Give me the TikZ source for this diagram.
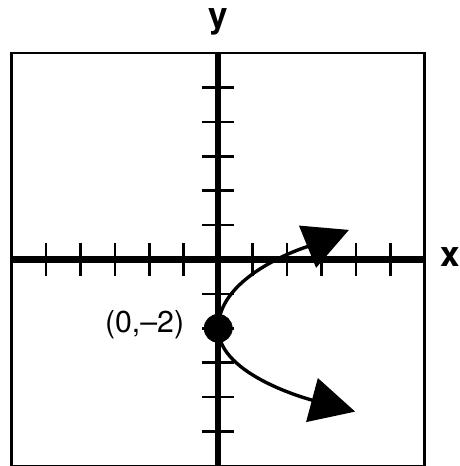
\documentclass[tikz,border=0pt]{standalone}
\usepackage{fontspec}
\setmainfont{TeX Gyre Heros}
\usetikzlibrary{arrows.meta,positioning}

\newcommand*{\xmin}{-6}
\newcommand*{\xmax}{6}
\newcommand*{\ymin}{-6}
\newcommand*{\ymax}{6}

\begin{document}
\begin{tikzpicture}
[
	frame/.style={line width=2pt},
	axis/.style={line width=5.4pt},
	tick/.style={line width=2.2pt},
	closedpt/.style={circle,draw,fill,inner sep=0pt,minimum size=0.82cm},
	curve/.style={line width=2.8pt,-{Triangle[length=1.3cm,width=1.3cm]}},
	axislabel/.style={font=\bfseries\fontsize{29}{29}\selectfont,anchor=base},
	ptlabel/.style={font=\fontsize{25}{25}\selectfont}
]
	\useasboundingbox (-6.34,-6.0) rectangle (7.0,7.54);

	% frame
	\draw[frame] (\xmin,\ymin) rectangle (\xmax,\ymax);

	% ticks
	\foreach \t in {1,...,5} {
		\draw[tick] (\t,-0.47) -- (\t,0.47);
		\draw[tick] (-\t,-0.47) -- (-\t,0.47);
		\draw[tick] (-0.47,\t) -- (0.47,\t);
		\draw[tick] (-0.47,-\t) -- (0.47,-\t);
	}

	% axes
	\draw[axis] (\xmin,0) -- (\xmax,0);
	\draw[axis] (0,\ymin) -- (0,\ymax);
	\node[axislabel] (xlab) at (6.74,-0.21) {x};
	\node[axislabel] (ylab) at (0,6.74) {y};

	% vertex
	\node[closedpt] (pt) at (0,-2) {};
	\node[ptlabel,left=0.45cm of pt,yshift=0.12cm] (ptlab) {(0,–2)};

	\coordinate (uptip) at (3.8,0.86);
	\coordinate (lowtip) at (3.98,-4.42);
	\draw[curve] (pt.center) .. controls (0,-0.4) and (2.69,0.41) .. (uptip);
	\draw[curve] (pt.center) .. controls (0,-3.4) and (2.82,-4.11) .. (lowtip);

\end{tikzpicture}
\end{document}
